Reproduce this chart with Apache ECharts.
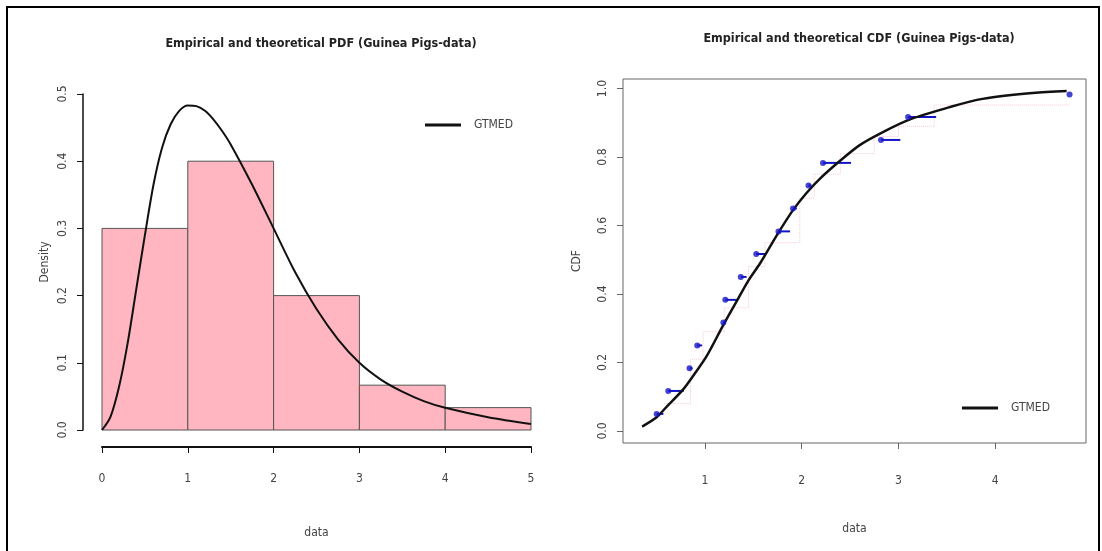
<!DOCTYPE html>
<html>
<head>
<meta charset="utf-8">
<script src="https://cdn.jsdelivr.net/npm/echarts@6/dist/echarts.min.js"></script>
<style>
  html, body {margin: 0; padding: 0; background: #fff;}
  #contain {width: 1102px; height: 551px;}
</style>
</head>
<body>
<div id="contain"></div>
<script>
// histogram (left)
var binEdges = [0, 1, 2, 3, 4, 5];
var binDensity = [0.3, 0.4, 0.2, 0.0667, 0.0333];
// fitted GTMED density
var pdfX = [0, 0.1, 0.2, 0.3, 0.4, 0.5, 0.6, 0.7, 0.8, 0.9, 1.0, 1.1, 1.2, 1.3, 1.4, 1.5, 1.75, 2.0, 2.25, 2.5, 2.75, 3.0, 3.25, 3.5, 3.75, 4.0, 4.5, 5.0];
var pdfY = [0, 0.02, 0.065, 0.13, 0.21, 0.29, 0.365, 0.42, 0.455, 0.475, 0.483, 0.482, 0.475, 0.462, 0.445, 0.425, 0.365, 0.3, 0.235, 0.18, 0.135, 0.1, 0.075, 0.057, 0.043, 0.033, 0.019, 0.009];
var pdfTicksX = [0, 1, 2, 3, 4, 5];

// right: fitted CDF
var cdfX = [0.35, 0.5, 0.6, 0.77, 0.9, 1.02, 1.19, 1.33, 1.45, 1.57, 1.75, 1.91, 2.05, 2.2, 2.4, 2.6, 2.84, 3.12, 3.53, 3.87, 4.39, 4.74];
var cdfY = [0.013, 0.04, 0.07, 0.12, 0.17, 0.22, 0.31, 0.38, 0.44, 0.49, 0.575, 0.645, 0.695, 0.74, 0.79, 0.835, 0.873, 0.91, 0.946, 0.97, 0.987, 0.993];
// empirical CDF points and their step ends
var ecdfX = [0.50, 0.62, 0.84, 0.92, 1.19, 1.21, 1.37, 1.53, 1.76, 1.91, 2.07, 2.22, 2.82, 3.10, 4.77];
var ecdfEnd = [0.57, 0.78, 0.87, 0.97, 1.21, 1.33, 1.43, 1.63, 1.88, 1.95, 2.10, 2.51, 3.02, 3.39, 4.77];
var ecdfY = [0.05, 0.117, 0.183, 0.25, 0.317, 0.383, 0.45, 0.517, 0.583, 0.65, 0.717, 0.783, 0.85, 0.917, 0.983];
// faint pink dotted trace
var pinkX = [0.58, 0.85, 0.98, 1.2, 1.45, 1.62, 1.98, 2.13, 2.4, 2.75, 3.0, 3.37, 4.77];
var pinkY = [0.08, 0.21, 0.29, 0.36, 0.48, 0.55, 0.68, 0.75, 0.81, 0.86, 0.89, 0.952, 0.952];
var cdfTicksY = [0, 0.2, 0.4, 0.6, 0.8, 1.0];
var cdfTicksX = [1, 2, 3, 4];

var FONT = "'Liberation Sans Narrow', 'DejaVu Sans Condensed', 'Liberation Sans', sans-serif";

function zip(a, b) {
    var r = [];
    for (var i = 0; i < a.length; i++) r.push([a[i], b[i]]);
    return r;
}

var histData = [];
for (var i = 0; i < binDensity.length; i++) {
    histData.push([binEdges[i], binEdges[i + 1], binDensity[i]]);
}
var stepData = [];
for (var i = 0; i < ecdfX.length; i++) {
    stepData.push([ecdfX[i], ecdfEnd[i], ecdfY[i]]);
}

var myChart = echarts.init(document.getElementById('contain'));
var option = {
    animation: false,
    backgroundColor: '#fff',
    textStyle: {fontFamily: FONT},
    graphic: [
        {type: 'rect', shape: {x: 7, y: 7, width: 1092, height: 560},
         style: {fill: 'none', stroke: '#000', lineWidth: 2}}
    ],
    title: [
        {text: 'Empirical and theoretical PDF (Guinea Pigs-data)', left: 316, top: 32, textAlign: 'center',
         textStyle: {fontFamily: FONT, fontSize: 12.5, fontWeight: 'bold', color: '#222'}},
        {text: 'Empirical and theoretical CDF (Guinea Pigs-data)', left: 854, top: 27, textAlign: 'center',
         textStyle: {fontFamily: FONT, fontSize: 12.5, fontWeight: 'bold', color: '#222'}}
    ],
    legend: [
        {data: ['GTMED'], left: 420, top: 114, icon: 'rect', itemWidth: 36, itemHeight: 3, itemGap: 10,
         textStyle: {fontFamily: FONT, fontSize: 12, color: '#444', padding: [0, 0, 0, 8]}},
        {data: ['GTMED'], left: 957, top: 397, icon: 'rect', itemWidth: 36, itemHeight: 3, itemGap: 10,
         textStyle: {fontFamily: FONT, fontSize: 12, color: '#444', padding: [0, 0, 0, 8]}}
    ],
    grid: [
        {left: 102, width: 429, top: 94, height: 336},
        {left: 623, width: 463, top: 79, height: 364, show: true, borderColor: '#666', borderWidth: 1, backgroundColor: 'transparent'}
    ],
    xAxis: [
        {
            type: 'value', gridIndex: 0, min: 0, max: 5, interval: 1, offset: 17,
            name: 'data', nameLocation: 'middle', nameGap: 80,
            nameTextStyle: {fontFamily: FONT, fontSize: 12, color: '#444'},
            axisLine: {show: true, onZero: false, lineStyle: {color: '#111', width: 2}},
            axisTick: {show: true, inside: false, length: 6, lineStyle: {color: '#111', width: 1}},
            axisLabel: {show: true, margin: 26, fontFamily: FONT, fontSize: 12, color: '#444',
                        customValues: pdfTicksX},
            splitLine: {show: false}
        },
        {
            type: 'value', gridIndex: 1, min: 0.152, max: 4.94,
            name: 'data', nameLocation: 'middle', nameGap: 80,
            nameTextStyle: {fontFamily: FONT, fontSize: 12, color: '#444'},
            axisLine: {show: false, onZero: false},
            axisTick: {show: true, inside: false, length: 6, lineStyle: {color: '#666'}, customValues: cdfTicksX},
            axisLabel: {show: true, margin: 32, fontFamily: FONT, fontSize: 12, color: '#444', customValues: cdfTicksX},
            splitLine: {show: false}
        }
    ],
    yAxis: [
        {
            type: 'value', gridIndex: 0, min: 0, max: 0.5, interval: 0.1, offset: 19,
            name: 'Density', nameLocation: 'middle', nameGap: 32, nameRotate: 90,
            nameTextStyle: {fontFamily: FONT, fontSize: 12, color: '#444'},
            axisLine: {show: true, onZero: false, lineStyle: {color: '#111', width: 1.5}},
            axisTick: {show: true, inside: false, length: 6, lineStyle: {color: '#111'}},
            axisLabel: {show: true, rotate: 90, margin: 14, fontFamily: FONT, fontSize: 12, color: '#444',
                        formatter: function (v) { return v.toFixed(1); }},
            splitLine: {show: false}
        },
        {
            type: 'value', gridIndex: 1, min: -0.035, max: 1.028,
            name: 'CDF', nameLocation: 'middle', nameGap: 40, nameRotate: 90,
            nameTextStyle: {fontFamily: FONT, fontSize: 12, color: '#444'},
            axisLine: {show: false, onZero: false},
            axisTick: {show: true, inside: false, length: 6, lineStyle: {color: '#666'}, customValues: cdfTicksY},
            axisLabel: {show: true, rotate: 90, margin: 14, fontFamily: FONT, fontSize: 12, color: '#444',
                        customValues: cdfTicksY,
                        formatter: function (v) { return v.toFixed(1); }},
            splitLine: {show: false}
        }
    ],
    series: [
        {
            name: 'hist',
            type: 'custom',
            xAxisIndex: 0, yAxisIndex: 0,
            data: histData,
            renderItem: function (params, api) {
                var p0 = api.coord([api.value(0), api.value(2)]);
                var p1 = api.coord([api.value(1), 0]);
                return {
                    type: 'rect',
                    shape: {x: p0[0], y: p0[1], width: p1[0] - p0[0], height: p1[1] - p0[1]},
                    style: {fill: '#ffb6c1', stroke: '#555', lineWidth: 1}
                };
            },
            silent: true,
            z: 1
        },
        {
            name: 'GTMED',
            type: 'line',
            xAxisIndex: 0, yAxisIndex: 0,
            data: zip(pdfX, pdfY),
            smooth: 0.3,
            symbol: 'none',
            showSymbol: false,
            lineStyle: {color: '#111', width: 2},
            itemStyle: {color: '#111'},
            z: 3
        },
        {
            name: 'pink',
            type: 'line',
            xAxisIndex: 1, yAxisIndex: 1,
            data: zip(pinkX, pinkY),
            step: 'end',
            symbol: 'none',
            lineStyle: {color: '#f8c8d2', width: 1, type: 'dotted'},
            z: 1
        },
        {
            name: 'GTMED',
            type: 'line',
            xAxisIndex: 1, yAxisIndex: 1,
            data: zip(cdfX, cdfY),
            smooth: 0.3,
            symbol: 'none',
            showSymbol: false,
            lineStyle: {color: '#111', width: 2.5},
            itemStyle: {color: '#111'},
            z: 4
        },
        {
            name: 'ecdfSteps',
            type: 'custom',
            xAxisIndex: 1, yAxisIndex: 1,
            data: stepData,
            renderItem: function (params, api) {
                var a = api.coord([api.value(0), api.value(2)]);
                var b = api.coord([api.value(1), api.value(2)]);
                return {
                    type: 'line',
                    shape: {x1: a[0], y1: a[1], x2: b[0], y2: b[1]},
                    style: {stroke: '#1515c8', lineWidth: 2}
                };
            },
            silent: true,
            z: 3
        },
        {
            name: 'ecdf',
            type: 'scatter',
            xAxisIndex: 1, yAxisIndex: 1,
            data: zip(ecdfX, ecdfY),
            symbol: 'circle',
            symbolSize: 6,
            itemStyle: {color: '#1515c8'},
            z: 5
        }
    ]
};
myChart.setOption(option, true);
</script>
</body>
</html>
